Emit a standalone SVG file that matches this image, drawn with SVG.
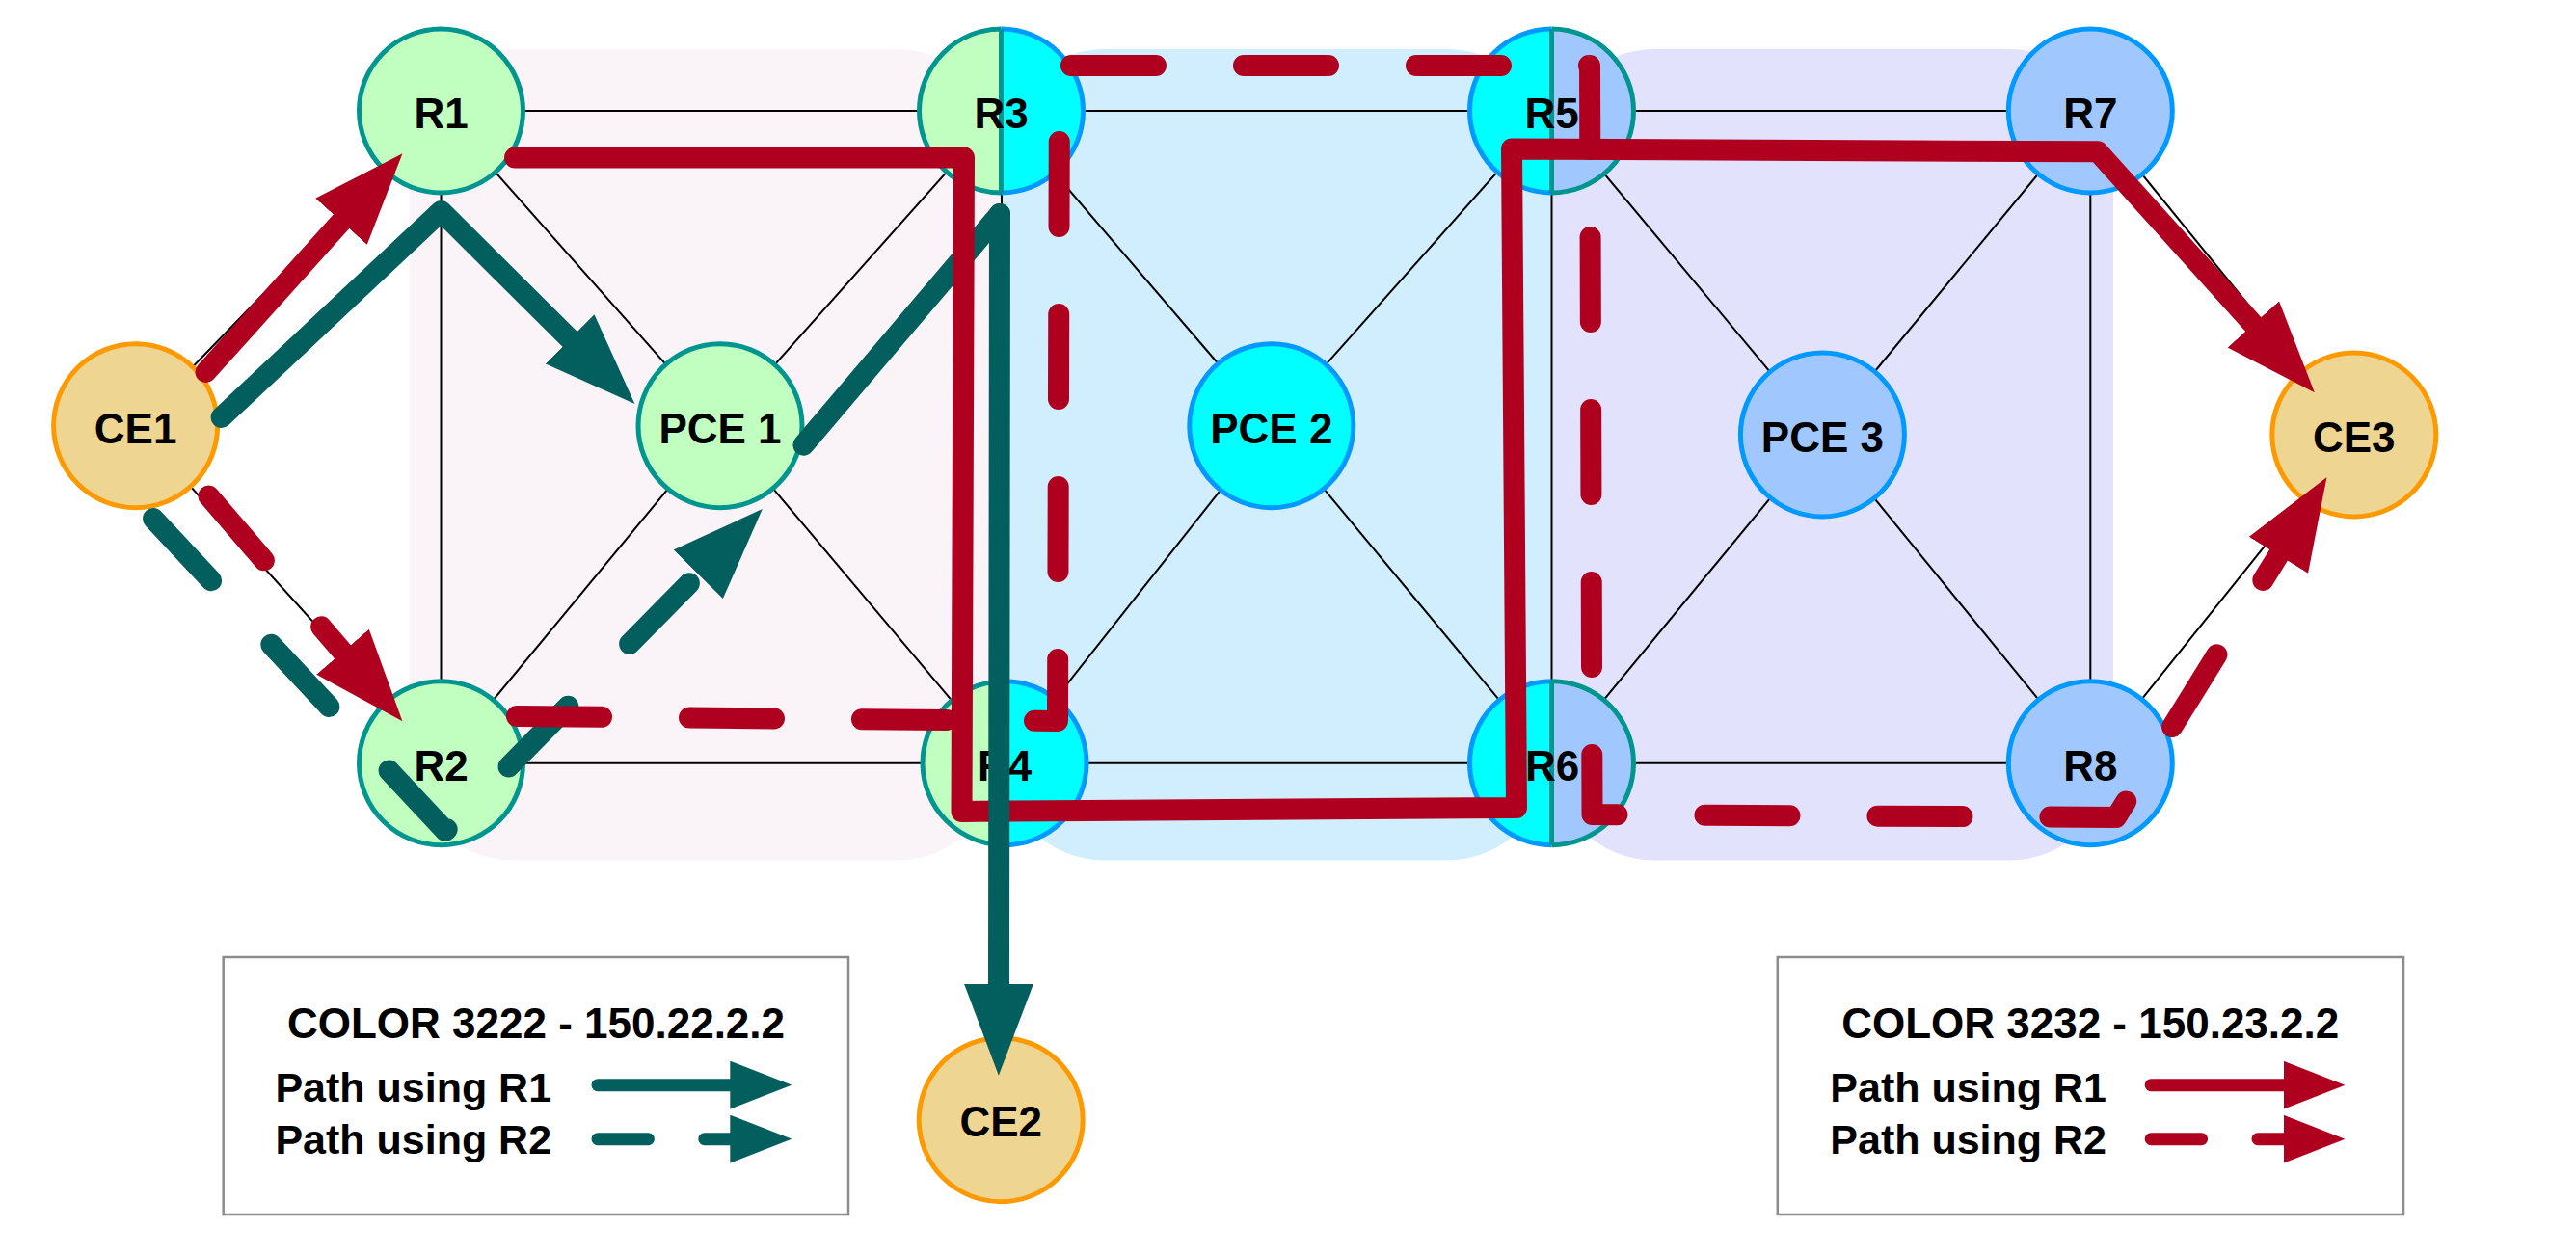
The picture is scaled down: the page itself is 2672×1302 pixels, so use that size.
<svg xmlns="http://www.w3.org/2000/svg" width="2672" height="1302" viewBox="0 0 2672 1302">
  <defs>
    <style>
      .bg-pink { fill: #FAF4F9; }
      .bg-blue { fill: #D0EEFD; }
      .bg-lav { fill: #E3E2FD; }
      .link { stroke: #000; stroke-width: 2; fill: none; }
      .n { stroke-width: 5; }
      .ce { fill: #EED592; stroke: #FF9900; }
      .gr { fill: #C0FFC0; stroke: #00968F; }
      .cy { fill: #00FFFF; stroke: #0099FF; }
      .lb { fill: #A0C8FF; stroke: #0099FF; }
      .f-gr { fill: #C0FFC0; stroke: none; }
      .f-cy { fill: #00FFFF; stroke: none; }
      .f-lb { fill: #A0C8FF; stroke: none; }
      .s-teal { fill: none; stroke: #00968F; stroke-width: 5; }
      .s-blue { fill: none; stroke: #0099FF; stroke-width: 5; }
      .lbl { font-family: "Liberation Sans", Arial, Helvetica, sans-serif; font-weight: bold; font-size: 44px; text-anchor: middle; fill: #000; }
      .legt { font-family: "Liberation Sans", Arial, Helvetica, sans-serif; font-weight: bold; font-size: 44px; text-anchor: middle; fill: #000; }
      .legl { font-family: "Liberation Sans", Arial, Helvetica, sans-serif; font-weight: bold; font-size: 43px; fill: #000; }
      .box { fill: #FFFFFF; stroke: #8C8C8C; stroke-width: 2.5; }
      .p { fill: none; stroke-width: 22; stroke-linecap: round; stroke-linejoin: round; }
      .teal { stroke: #035E5E; }
      .red { stroke: #B00020; }
      .dash { stroke-dasharray: 88 91; }
      .lp { fill: none; stroke-width: 13; stroke-linecap: round; }
      .ldash { stroke-dasharray: 52.4 58.4 100; }
    </style>
    <marker id="hTeal" markerUnits="userSpaceOnUse" viewBox="0 0 95 72" markerWidth="95" markerHeight="72" refX="2" refY="36" orient="auto">
      <path d="M0,0 L95,36 L0,72 Z" fill="#035E5E"/>
    </marker>
    <marker id="hRed" markerUnits="userSpaceOnUse" viewBox="0 0 95 72" markerWidth="95" markerHeight="72" refX="2" refY="36" orient="auto">
      <path d="M0,0 L95,36 L0,72 Z" fill="#B00020"/>
    </marker>
    <marker id="lTeal" markerUnits="userSpaceOnUse" viewBox="0 0 64 50" markerWidth="64" markerHeight="50" refX="1" refY="25" orient="auto">
      <path d="M0,0 L64,25 L0,50 Z" fill="#035E5E"/>
    </marker>
    <marker id="lRed" markerUnits="userSpaceOnUse" viewBox="0 0 64 50" markerWidth="64" markerHeight="50" refX="1" refY="25" orient="auto">
      <path d="M0,0 L64,25 L0,50 Z" fill="#B00020"/>
    </marker>
  </defs>

  <rect width="2672" height="1302" fill="#FFFFFF"/>

  <g id="domains">
    <rect id="domain-1" class="bg-pink" x="425" y="51" width="613" height="841.5" rx="108" ry="108"/>
    <rect id="domain-2" class="bg-blue" x="1038" y="51" width="570.5" height="841.5" rx="108" ry="108"/>
    <rect id="domain-3" class="bg-lav" x="1608.5" y="51" width="583.5" height="841.5" rx="108" ry="108"/>
  </g>

  <g id="links">
    <line class="link" x1="140.6" y1="441.7" x2="457.5" y2="115"/>
    <line class="link" x1="140.6" y1="441.7" x2="457.5" y2="791.7"/>
    <line class="link" x1="457.5" y1="115" x2="1038.5" y2="115"/>
    <line class="link" x1="457.5" y1="115" x2="457.5" y2="791.7"/>
    <line class="link" x1="457.5" y1="115" x2="747" y2="441.7"/>
    <line class="link" x1="457.5" y1="791.7" x2="747" y2="441.7"/>
    <line class="link" x1="457.5" y1="791.7" x2="1042" y2="791.7"/>
    <line class="link" x1="1038.5" y1="115" x2="747" y2="441.7"/>
    <line class="link" x1="1042" y1="791.7" x2="747" y2="441.7"/>
    <line class="link" x1="1038.5" y1="115" x2="1042" y2="791.7"/>
    <line class="link" x1="1038.5" y1="115" x2="1609.5" y2="115"/>
    <line class="link" x1="1042" y1="791.7" x2="1609.5" y2="791.7"/>
    <line class="link" x1="1038.5" y1="115" x2="1318.8" y2="441.7"/>
    <line class="link" x1="1609.5" y1="115" x2="1318.8" y2="441.7"/>
    <line class="link" x1="1042" y1="791.7" x2="1318.8" y2="441.7"/>
    <line class="link" x1="1609.5" y1="791.7" x2="1318.8" y2="441.7"/>
    <line class="link" x1="1609.5" y1="115" x2="1609.5" y2="791.7"/>
    <line class="link" x1="1609.5" y1="115" x2="2168.3" y2="115"/>
    <line class="link" x1="1609.5" y1="791.7" x2="2168.3" y2="791.7"/>
    <line class="link" x1="1609.5" y1="115" x2="1890.4" y2="451"/>
    <line class="link" x1="2168.3" y1="115" x2="1890.4" y2="451"/>
    <line class="link" x1="1609.5" y1="791.7" x2="1890.4" y2="451"/>
    <line class="link" x1="2168.3" y1="791.7" x2="1890.4" y2="451"/>
    <line class="link" x1="2168.3" y1="115" x2="2168.3" y2="791.7"/>
    <line class="link" x1="2168.3" y1="115" x2="2441.8" y2="451"/>
    <line class="link" x1="2168.3" y1="791.7" x2="2441.8" y2="451"/>
  </g>

  <g id="CE1"><circle class="n ce" cx="140.6" cy="441.7" r="85"/><text class="lbl" x="140.6" y="459.7">CE1</text></g>
  <g id="R1"><circle class="n gr" cx="457.5" cy="115" r="85"/><text class="lbl" x="457.5" y="133">R1</text></g>
  <g id="R2"><circle class="n gr" cx="457.5" cy="791.7" r="85"/><text class="lbl" x="457.5" y="809.7">R2</text></g>
  <g id="PCE1"><circle class="n gr" cx="747" cy="441.7" r="85"/><text class="lbl" x="747" y="459.7">PCE 1</text></g>
  <g id="R3">
    <path class="f-gr" d="M1038.5,30 A85,85 0 0 0 1038.5,200 Z"/>
    <path class="f-cy" d="M1038.5,30 A85,85 0 0 1 1038.5,200 Z"/>
    <path class="s-teal" d="M1038.5,30 A85,85 0 0 0 1038.5,200"/>
    <path class="s-blue" d="M1038.5,30 A85,85 0 0 1 1038.5,200"/>
    <line class="s-teal" x1="1038.5" y1="30" x2="1038.5" y2="200"/>
    <text class="lbl" x="1038.5" y="133">R3</text>
  </g>
  <g id="R4">
    <path class="f-gr" d="M1042,706.7 A85,85 0 0 0 1042,876.7 Z"/>
    <path class="f-cy" d="M1042,706.7 A85,85 0 0 1 1042,876.7 Z"/>
    <path class="s-teal" d="M1042,706.7 A85,85 0 0 0 1042,876.7"/>
    <path class="s-blue" d="M1042,706.7 A85,85 0 0 1 1042,876.7"/>
    <line class="s-teal" x1="1042" y1="706.7" x2="1042" y2="876.7"/>
    <text class="lbl" x="1042" y="809.7">R4</text>
  </g>
  <g id="PCE2"><circle class="n cy" cx="1318.8" cy="441.7" r="85"/><text class="lbl" x="1318.8" y="459.7">PCE 2</text></g>
  <g id="R5">
    <path class="f-cy" d="M1609.5,30 A85,85 0 0 0 1609.5,200 Z"/>
    <path class="f-lb" d="M1609.5,30 A85,85 0 0 1 1609.5,200 Z"/>
    <path class="s-blue" d="M1609.5,30 A85,85 0 0 0 1609.5,200"/>
    <path class="s-teal" d="M1609.5,30 A85,85 0 0 1 1609.5,200"/>
    <line class="s-teal" x1="1609.5" y1="30" x2="1609.5" y2="200"/>
    <text class="lbl" x="1609.5" y="133">R5</text>
  </g>
  <g id="R6">
    <path class="f-cy" d="M1609.5,706.7 A85,85 0 0 0 1609.5,876.7 Z"/>
    <path class="f-lb" d="M1609.5,706.7 A85,85 0 0 1 1609.5,876.7 Z"/>
    <path class="s-blue" d="M1609.5,706.7 A85,85 0 0 0 1609.5,876.7"/>
    <path class="s-teal" d="M1609.5,706.7 A85,85 0 0 1 1609.5,876.7"/>
    <line class="s-teal" x1="1609.5" y1="706.7" x2="1609.5" y2="876.7"/>
    <text class="lbl" x="1610" y="809.7">R6</text>
  </g>
  <g id="PCE3"><circle class="n lb" cx="1890.4" cy="451" r="85"/><text class="lbl" x="1890.4" y="468.5">PCE 3</text></g>
  <g id="R7"><circle class="n lb" cx="2168.3" cy="115" r="85"/><text class="lbl" x="2168.3" y="133">R7</text></g>
  <g id="R8"><circle class="n lb" cx="2168.3" cy="791.7" r="85"/><text class="lbl" x="2168.3" y="809.7">R8</text></g>
  <g id="CE3"><circle class="n ce" cx="2441.8" cy="451" r="85"/><text class="lbl" x="2441.8" y="468.5">CE3</text></g>
  <g id="CE2"><circle class="n ce" cx="1038.2" cy="1161.7" r="85"/><text class="lbl" x="1038.2" y="1179.4">CE2</text></g>

  <g id="paths">
    <path class="p teal" d="M229.6,433 L457.5,219 L592.5,353.3" marker-end="url(#hTeal)"/>
    <path class="p teal" d="M833.5,461.7 L1037,222"/>
    <path class="p teal dash" d="M159,538 L462,862 L725.6,594.3" marker-end="url(#hTeal)"/>
    <path class="p red" d="M213.5,386 L355.3,228.3" marker-end="url(#hRed)"/>
    <path class="p red" d="M534,163.5 L1000,163.5 L997.5,842 L1573,838 L1568,154.5 L2176,157.3 L2338.6,338" marker-end="url(#hRed)"/>
    <path class="p red dash" d="M216.5,514.6 L356.8,677.8" marker-end="url(#hRed)"/>
    <path class="p red dash" d="M536,743 L1097,748 L1099,68 L1649,68 L1651.5,845 L2195,848 L2364.5,574.2" marker-end="url(#hRed)"/>
    <path class="p teal" d="M1037,222 L1036,1022.7" marker-end="url(#hTeal)"/>
  </g>

  <g id="legend-3222">
    <rect class="box" x="231.7" y="993" width="648.3" height="267"/>
    <text class="legt" x="556" y="1076.7">COLOR 3222 - 150.22.2.2</text>
    <text class="legl" x="285.4" y="1143.3">Path using R1</text>
    <text class="legl" x="285.4" y="1197.3">Path using R2</text>
    <path class="lp teal" d="M620,1125.7 H758.3" marker-end="url(#lTeal)"/>
    <path class="lp teal ldash" d="M620,1181.7 H758.3" marker-end="url(#lTeal)"/>
  </g>

  <g id="legend-3232">
    <rect class="box" x="1843.8" y="993" width="649.2" height="267"/>
    <text class="legt" x="2168.2" y="1076.7">COLOR 3232 - 150.23.2.2</text>
    <text class="legl" x="1898.3" y="1143.3">Path using R1</text>
    <text class="legl" x="1898.3" y="1197.3">Path using R2</text>
    <path class="lp red" d="M2231.2,1125.7 H2369.5" marker-end="url(#lRed)"/>
    <path class="lp red ldash" d="M2231.2,1181.7 H2369.5" marker-end="url(#lRed)"/>
  </g>
</svg>
